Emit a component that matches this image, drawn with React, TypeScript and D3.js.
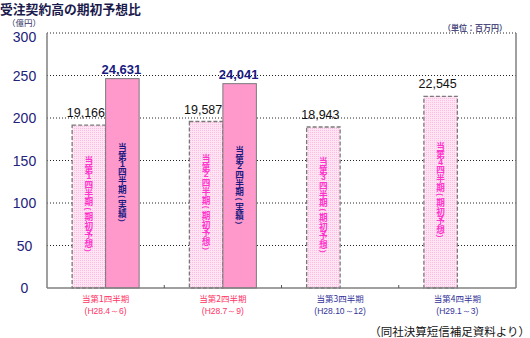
import React from "react";
import * as d3 from "d3";

const categories = ["当第1四半期", "当第2四半期", "当第3四半期", "当第4四半期"];
const periods = ["(H28.4～6)", "(H28.7～9)", "(H28.10～12)", "(H29.1～3)"];
const forecastValues = [19166, 19587, 18943, 22545]; // 百万円
const actualValues: (number | null)[] = [24631, 24041, null, null];
const quarterNums = ["1", "2", "3", "4"];
const yTicks = [0, 50, 100, 150, 200, 250, 300];
const series = ["forecast", "actual"];

const W = 530, H = 338;
const M = { left: 47, right: 516, top: 33, bottom: 288 };
const JP = "'Noto Sans CJK JP', 'Noto Sans', sans-serif";
const LAT = "'Liberation Sans', Arial, sans-serif";

function VerticalText({ text, cx, cy, color }: { text: string; cx: number; cy: number; color: string }) {
  const chars = Array.from(text);
  const step = (c: string) => (/[0-9()]/.test(c) ? 6.3 : 8.8);
  const total = chars.reduce((s, c) => s + step(c), 0);
  let y = cy - total / 2;
  return (
    <g fill={color} fontWeight="bold" textAnchor="middle">
      {chars.map((c, i) => {
        const h = step(c);
        const yc = y + h / 2;
        y += h;
        if (c === "(" || c === ")") {
          return (
            <text key={i} x={0} y={0} dominantBaseline="central" fontFamily={LAT} fontSize={8}
              transform={`translate(${cx},${yc}) rotate(90)`}>{c}</text>
          );
        }
        const digit = /[0-9]/.test(c);
        return (
          <text key={i} x={cx} y={yc} dominantBaseline="central"
            fontFamily={digit ? LAT : JP} fontSize={digit ? 8.5 : 8.6}>{c}</text>
        );
      })}
    </g>
  );
}

export default function App() {
  const x = d3.scaleBand<string>().domain(categories).range([M.left, M.right]).padding(0);
  const xs = d3.scaleBand<string>().domain(series).range([0, x.bandwidth()]).paddingInner(0).paddingOuter(0.75);
  const y = d3.scaleLinear().domain([0, 300]).range([M.bottom, M.top]);
  const bw = xs.bandwidth();

  return (
    <svg width={W} height={H} style={{ position: "absolute", left: 0, top: 0, background: "#fff" }}>
      <defs>
        <pattern id="dots" width="2" height="2" patternUnits="userSpaceOnUse">
          <rect width="2" height="2" fill="#FFE4F3" />
          <rect width="1" height="1" fill="#FFBDE3" />
        </pattern>
      </defs>

      {/* title */}
      <text x={0} y={14} fontFamily={JP} fontWeight="bold" fontSize={12.8} fill="#1a1a4d">受注契約高の期初予想比</text>
      <text x={24} y={26} fontFamily={JP} fontSize={8.5} fill="#333366" textAnchor="middle">（億円）</text>
      <text x={507} y={31} fontFamily={JP} fontSize={8} fontWeight="bold" fill="#4d4d80" textAnchor="end">（単位：百万円）</text>

      {/* gridlines */}
      {yTicks.filter((t) => t > 0).map((t) => (
        <line key={t} x1={M.left} x2={M.right} y1={y(t)} y2={y(t)} stroke="#222" strokeWidth={1} strokeDasharray="1 2" />
      ))}

      {/* y labels */}
      {yTicks.map((t) => (
        <text key={t} x={24.5} y={y(t) + (t === 300 ? 4 : 0)} dy="0.36em" textAnchor="middle" fontFamily={LAT} fontSize={14} fill="#22227A">{t}</text>
      ))}

      {/* bars */}
      {categories.map((c, i) => {
        const x0 = x(c)!;
        const fx = x0 + xs("forecast")!;
        const ax = x0 + xs("actual")!;
        const fv = forecastValues[i] / 100;
        const av = actualValues[i];
        return (
          <g key={c}>
            <rect x={fx} y={y(fv)} width={bw} height={M.bottom - y(fv)} fill="url(#dots)"
              stroke="#7a7a7a" strokeWidth={1.3} strokeDasharray="4 2" />
            <VerticalText text={`当第${quarterNums[i]}四半期(期初予想)`} cx={fx + bw / 2}
              cy={(y(fv) + M.bottom) / 2 - 2} color="#FF33CC" />
            <text x={fx + bw / 2 - 3} y={y(fv) - 8} textAnchor="middle" fontFamily={LAT} fontSize={12.5} fill="#111">
              {d3.format(",")(forecastValues[i])}
            </text>
            {av != null && (
              <g>
                <rect x={ax} y={y(av / 100)} width={bw} height={M.bottom - y(av / 100)} fill="#FF99CC" stroke="#7a7a7a" strokeWidth={1} />
                <VerticalText text={`当第${quarterNums[i]}四半期(実績)`} cx={ax + bw / 2}
                  cy={(y(av / 100) + M.bottom) / 2} color="#1a1a80" />
                <text x={ax + bw / 2 - 1} y={y(av / 100) - 4.5} textAnchor="middle" fontFamily={LAT} fontWeight="bold" fontSize={13} fill="#1a1a80">
                  {d3.format(",")(av)}
                </text>
              </g>
            )}
          </g>
        );
      })}

      {/* frame */}
      <line x1={M.left} x2={M.left} y1={M.top} y2={M.bottom} stroke="#808080" strokeWidth={1.5} />
      <line x1={M.right} x2={M.right} y1={M.top} y2={M.bottom} stroke="#808080" strokeWidth={1.5} />
      <line x1={M.left} x2={M.right} y1={M.bottom} y2={M.bottom} stroke="#808080" strokeWidth={1.5} />
      {categories.slice(1).map((c) => (
        <line key={c} x1={x(c)!} x2={x(c)!} y1={M.bottom} y2={M.bottom - 3} stroke="#555" strokeWidth={1} />
      ))}

      {/* x labels */}
      {categories.map((c, i) => {
        const cx = x(c)! + x.bandwidth() / 2;
        const col = i < 2 ? "#FF3366" : "#333399";
        return (
          <g key={c} fill={col} textAnchor="middle" fontFamily={JP} fontSize={8.5}>
            <text x={cx} y={298} dominantBaseline="central">{c}</text>
            <text x={cx} y={311} dominantBaseline="central" fontFamily={LAT}>{periods[i]}</text>
          </g>
        );
      })}

      <text x={530} y={336} textAnchor="end" fontFamily={JP} fontSize={11.5} fill="#111">（同社決算短信補足資料より）</text>
    </svg>
  );
}
